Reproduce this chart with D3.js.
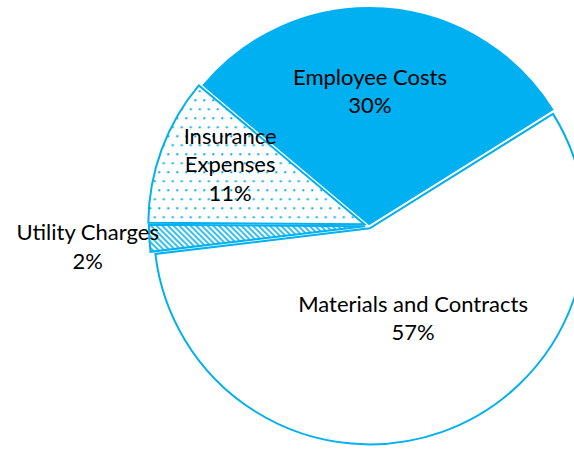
<!DOCTYPE html>
<html>
<head>
<meta charset="utf-8">
<script src="https://cdn.jsdelivr.net/npm/d3@7"></script>
<style>
  html, body { margin: 0; padding: 0; background: #fff; overflow: hidden; }
  svg { display: block; }
  .label { font-family: Lato, "Open Sans", sans-serif; font-size: 22px; fill: #000; }
</style>
</head>
<body>
<svg id="chart" width="574" height="449"></svg>
<script>
// slice order follows the drawing order, clockwise
const categories = ["Employee Costs", "Materials and Contracts", "Utility Charges", "Insurance Expenses"];
const values = [30, 57, 2, 11];
const labelLines = [["Employee Costs", "30%"], ["Materials and Contracts", "57%"], ["Utility Charges", "2%"], ["Insurance", "Expenses", "11%"]];

const blue = "#00B0F0";
const width = 574, height = 449;
const cx = 369, cy = 226, radius = 216;

// explode distance and label placement (radius, angle in degrees from 12 o'clock)
const explode = {"Employee Costs": 2, "Materials and Contracts": 2.5, "Utility Charges": 4, "Insurance Expenses": 5};
const labelPos = {
  "Employee Costs": [135, 0.4],
  "Materials and Contracts": [102, 154.4],
  "Utility Charges": [282, 265.8],
  "Insurance Expenses": [152, 294]
};

const svg = d3.select("#chart");
const defs = svg.append("defs");

const dots = defs.append("pattern")
  .attr("id", "dots")
  .attr("patternUnits", "userSpaceOnUse")
  .attr("width", 9).attr("height", 18);
dots.append("rect").attr("width", 9).attr("height", 18).attr("fill", "#fff");
dots.append("rect").attr("x", 1).attr("y", 1).attr("width", 2).attr("height", 2).attr("fill", blue);
dots.append("rect").attr("x", 5.5).attr("y", 10).attr("width", 2).attr("height", 2).attr("fill", blue);

const hatch = defs.append("pattern")
  .attr("id", "hatch")
  .attr("patternUnits", "userSpaceOnUse")
  .attr("width", 4).attr("height", 4)
  .attr("patternTransform", "rotate(-45)");
hatch.append("rect").attr("width", 4).attr("height", 4).attr("fill", "#fff");
hatch.append("line").attr("x1", 1).attr("y1", 0).attr("x2", 1).attr("y2", 4)
  .attr("stroke", blue).attr("stroke-width", 1.6);

const fills = {
  "Employee Costs": blue,
  "Materials and Contracts": "#fff",
  "Utility Charges": "url(#hatch)",
  "Insurance Expenses": "url(#dots)"
};

const data = categories.map((c, i) => ({name: c, value: values[i], lines: labelLines[i]}));

const pie = d3.pie()
  .sort(null)
  .value(d => d.value)
  .startAngle(-50 * Math.PI / 180)
  .endAngle(310 * Math.PI / 180);

const arc = d3.arc().innerRadius(0).outerRadius(radius);

const g = svg.append("g").attr("transform", "translate(" + cx + "," + cy + ")");

const arcs = pie(data);

g.selectAll("path.slice")
  .data(arcs)
  .join("path")
    .attr("class", "slice")
    .attr("transform", d => {
      const mid = (d.startAngle + d.endAngle) / 2;
      const e = explode[d.data.name];
      return "translate(" + (e * Math.sin(mid)) + "," + (-e * Math.cos(mid)) + ")";
    })
    .attr("d", arc)
    .attr("fill", d => fills[d.data.name])
    .attr("stroke", blue)
    .attr("stroke-width", 2)
    .attr("stroke-linejoin", "miter");

const lineHeight = 28.5;
const labels = g.selectAll("text.label")
  .data(arcs)
  .join("text")
    .attr("class", "label")
    .attr("text-anchor", "middle")
    .attr("transform", d => {
      const p = labelPos[d.data.name];
      const a = p[1] * Math.PI / 180;
      return "translate(" + (p[0] * Math.sin(a)) + "," + (-p[0] * Math.cos(a)) + ")";
    });

labels.selectAll("tspan")
  .data(d => d.data.lines.map((t, i, arr) => ({t, i, n: arr.length})))
  .join("tspan")
    .attr("x", 0)
    .attr("y", d => (d.i - (d.n - 1) / 2) * lineHeight + 8)
    .text(d => d.t);
</script>
</body>
</html>
